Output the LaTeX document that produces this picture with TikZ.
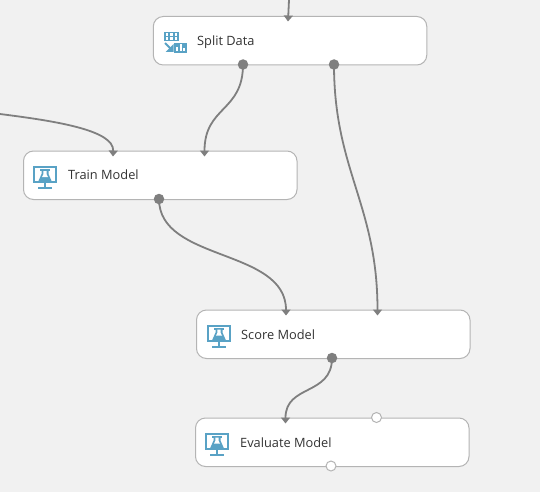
\documentclass[tikz,border=0pt]{standalone}
\usepackage{fontspec}
\setmainfont{Open Sans}
\usetikzlibrary{arrows.meta}
\definecolor{pagebg}{HTML}{F1F1F1}
\definecolor{boxline}{HTML}{B4B4B4}
\definecolor{wire}{HTML}{7F7F7F}
\definecolor{iconblue}{HTML}{59A2C5}
\definecolor{labeltext}{HTML}{333333}
\tikzset{
  x=1pt,y=-1pt,
  modbox/.style={draw=boxline,fill=white,line width=1pt,rounded corners=10pt,minimum width=273.5pt,minimum height=48.5pt,inner sep=0pt,anchor=north west},
  modlabel/.style={anchor=base west,inner sep=0pt,text=labeltext,font=\fontsize{12.8}{14}\selectfont},
  wireline/.style={draw=wire,line width=1.8pt,-{Triangle[width=9pt,length=6pt]}},
  outport/.style={circle,fill=wire,draw=none,minimum size=10.5pt,inner sep=0pt},
  openport/.style={circle,fill=white,draw=boxline,line width=1pt,minimum size=10pt,inner sep=0pt},
  flaskicon/.pic={
    \draw[iconblue,line width=2pt] (10.5,16) rectangle (33,31);
    \fill[iconblue] (20.5,31) rectangle (23,36.5);
    \fill[iconblue] (15,36) rectangle (28.5,38);
    \fill[iconblue] (17,18) rectangle (27,20);
    \fill[iconblue] (18.5,20) -- (25.5,20) -- (25.5,23) -- (29,31) -- (15,31) -- (18.5,23) -- cycle;
    \fill[white] (20.3,20) -- (23.7,20) -- (23.7,23.5) -- (25,26) -- (19,26) -- (20.3,23.5) -- cycle;
  },
  spliticon/.pic={
    \fill[iconblue] (11,16) rectangle (25.5,25.5);
    \foreach \a in {12.7,17.2,21.7}{\foreach \b in {17.5,21.5}{\fill[white] (\a,\b) rectangle ++(2.3,2.5);}}
    \draw[iconblue,line width=1.8pt] (12,27) -- (19,34);
    \fill[iconblue] (20.5,28) -- (20.5,36) -- (12.5,36) -- cycle;
    \fill[iconblue] (21,27) rectangle (34,37);
    \fill[white] (23,31) rectangle (25,35.5);
    \fill[white] (26.5,28.5) rectangle (28.5,35.5);
    \fill[white] (30,32) rectangle (32,35.5);
  }
}
\begin{document}
\begin{tikzpicture}
\useasboundingbox (0,0) rectangle (540,492);
\fill[pagebg] (0,0) rectangle (540,492);
% module boxes
\node[modbox] (split) at (152.8,16) {};
\node[modbox] (train) at (23,150.5) {};
\node[modbox] (score) at (196,309.5) {};
\node[modbox] (eval) at (195,417.5) {};
% icons
\pic at (153,16) {spliticon};
\pic at (23,151) {flaskicon};
\pic at (197,309.5) {flaskicon};
\pic at (195,417.5) {flaskicon};
% labels
\node[modlabel] (splitlabel) at (197,46) {Split Data};
\node[modlabel] (trainlabel) at (68,179) {Train Model};
\node[modlabel] (scorelabel) at (241,339) {Score Model};
\node[modlabel] (evallabel) at (240,447) {Evaluate Model};
% free ends and inputs
\coordinate (topfree) at (289,0);
\coordinate (leftfree) at (0,114);
\coordinate (splitin) at (288,21.5);
\coordinate (trainina) at (113,156.5);
\coordinate (traininb) at (204.5,156.5);
\coordinate (scoreina) at (286,315.5);
\coordinate (scoreinb) at (377.5,315.5);
\coordinate (evalin) at (285.5,423.5);
% ports
\node[outport] (splitouta) at (243,64.5) {};
\node[outport] (splitoutb) at (334,64.5) {};
\node[outport] (trainout) at (159,199) {};
\node[outport] (scoreout) at (332,358) {};
\node[openport] (evaltop) at (376.5,417.5) {};
\node[openport] (evalbottom) at (331,466) {};
% connectors
\draw[wireline] (topfree) -- (splitin);
\draw[wireline] (leftfree) .. controls (55,121) and (114,130) .. (trainina);
\draw[wireline] (splitouta.center) .. controls (243,112) and (204.5,106) .. (traininb);
\draw[wireline] (splitoutb.center) .. controls (334,170) and (377.5,205) .. (scoreinb);
\draw[wireline] (trainout.center) .. controls (159,262) and (286,248) .. (scoreina);
\draw[wireline] (scoreout.center) .. controls (332,396) and (285.5,384) .. (evalin);
\end{tikzpicture}
\end{document}
